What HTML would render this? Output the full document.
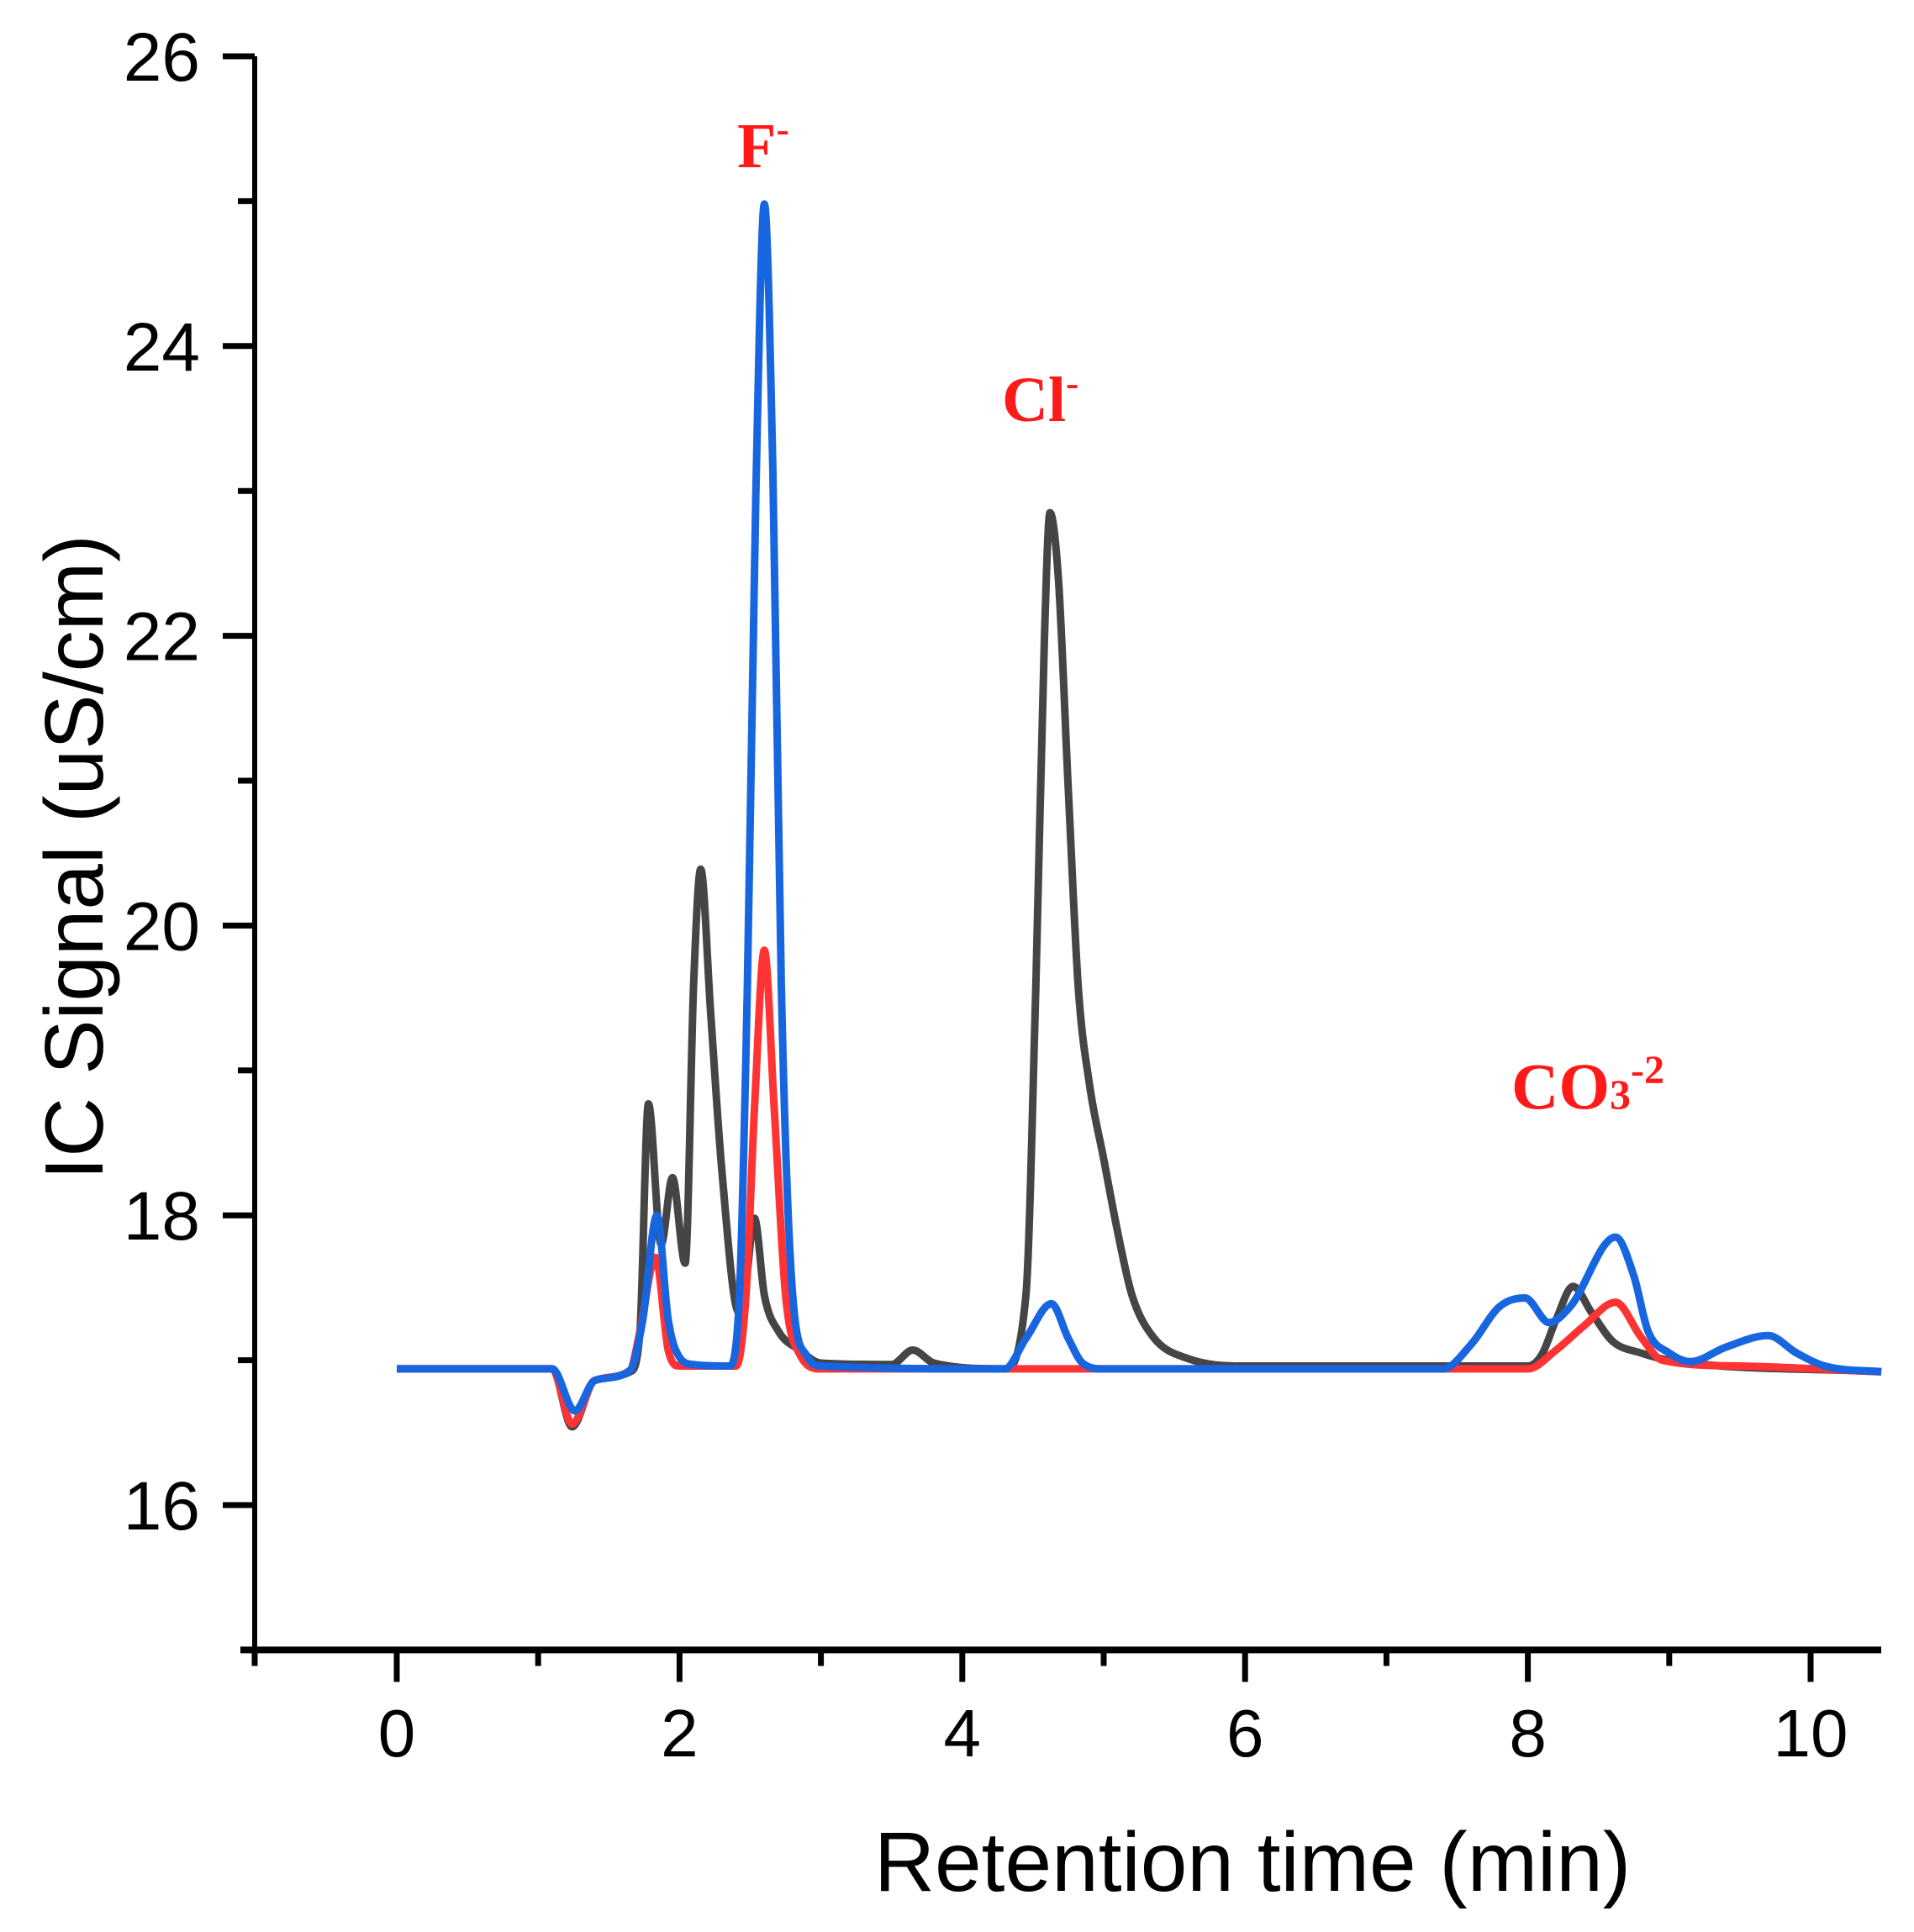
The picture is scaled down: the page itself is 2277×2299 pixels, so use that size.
<!DOCTYPE html>
<html><head><meta charset="utf-8"><style>
html,body{margin:0;padding:0;background:#fff;}
svg{display:block;}
</style></head><body>
<svg id="chart" width="2277" height="2299" viewBox="0 0 2277 2299" xmlns="http://www.w3.org/2000/svg">
<g id="axes"></g>
<g id="series"></g>
<text x="1490" y="2250" font-family="Liberation Sans, sans-serif" font-size="100" text-anchor="middle" fill="#000">Retention time (min)</text>
<text transform="translate(122,1020) rotate(-90)" font-family="Liberation Sans, sans-serif" font-size="98" text-anchor="middle" fill="#000">IC Signal (uS/cm)</text>
<text x="877" y="199" font-family="Liberation Serif, serif" font-weight="bold" font-size="76" fill="#ff1a1a">F<tspan font-size="46" dy="-30">-</tspan></text>
<text x="1192" y="501" font-family="Liberation Serif, serif" font-weight="bold" font-size="76" fill="#ff1a1a">Cl<tspan font-size="46" dy="-30">-</tspan></text>
<text x="1798" y="1319" font-family="Liberation Serif, serif" font-weight="bold" font-size="78" fill="#ff1a1a">CO<tspan font-size="50" dy="0">3</tspan><tspan font-size="48" dy="-30">-2</tspan></text>
</svg>
<script>
const xTicks=[0,2,4,6,8,10];
const xMinor=[-1,1,3,5,7,9];
const yTicks=[16,18,20,22,24,26];
const yMinor=[17,19,21,23,25];
const blackT=[0,1.1,1.24,1.4,1.65,1.72,1.78,1.87,1.95,2.04,2.1,2.15,2.22,2.3,2.42,2.47,2.53,2.6,2.7,2.85,3.0,3.5,3.65,3.8,4.3,4.45,4.52,4.58,4.62,4.68,4.75,4.82,4.9,5.0,5.1,5.2,5.35,5.6,6.0,8.0,8.1,8.2,8.32,8.45,8.6,8.8,9.0,10.5];
const blackV=[16.94,16.94,16.54,16.86,16.92,17.2,18.77,17.8,18.26,17.67,19.6,20.39,19.4,18.3,17.33,17.54,17.98,17.45,17.2,17.07,16.98,16.97,17.07,16.98,16.94,17.45,19.58,21.96,22.85,22.39,20.94,19.58,18.9,18.39,17.88,17.45,17.16,17.01,16.96,16.96,17.04,17.28,17.51,17.33,17.13,17.05,17.0,16.92];
const redT=[0,1.1,1.24,1.4,1.65,1.72,1.83,1.92,2.0,2.4,2.47,2.53,2.6,2.67,2.75,2.85,3.0,8.0,8.2,8.4,8.62,8.8,8.95,9.5,10.5];
const redV=[16.94,16.94,16.56,16.86,16.93,17.2,17.71,17.07,16.96,16.96,17.45,18.73,19.83,18.73,17.45,17.04,16.94,16.94,17.07,17.24,17.40,17.16,17.0,16.96,16.92];
const blueT=[0,1.1,1.26,1.4,1.65,1.74,1.84,1.92,2.0,2.1,2.35,2.42,2.48,2.54,2.6,2.66,2.72,2.8,2.9,3.0,4.3,4.45,4.63,4.75,4.85,5.0,7.4,7.6,7.8,7.98,8.15,8.3,8.62,8.75,8.85,9.0,9.15,9.4,9.7,9.9,10.1,10.5];
const blueV=[16.94,16.94,16.65,16.86,16.93,17.28,18.0,17.28,17.02,16.97,16.96,17.37,19.58,22.98,24.98,23.15,19.58,17.45,17.03,16.96,16.94,17.15,17.39,17.15,16.98,16.94,16.94,17.11,17.37,17.43,17.26,17.37,17.85,17.58,17.2,17.05,16.99,17.09,17.17,17.05,16.96,16.92];

const X0=472, XS=168.2, Y0=1791, YS=172.4;
function sx(t){return X0+t*XS;}
function sy(v){return Y0-(v-16)*YS;}
const NS='http://www.w3.org/2000/svg';
const axes=document.getElementById('axes');
function mk(tag,attrs,parent){const e=document.createElementNS(NS,tag);for(const k in attrs)e.setAttribute(k,attrs[k]);parent.appendChild(e);return e;}
const ya=mk('line',{x1:303,y1:sy(26),x2:303,y2:sy(15)+4,stroke:'#000','stroke-width':6},axes);


const xa=mk('line',{x1:286,y1:sy(15),x2:2238,y2:sy(15),stroke:'#000','stroke-width':8},axes);


xTicks.forEach(t=>{
  const l=mk('line',{x1:sx(t),y1:sy(15),x2:sx(t),y2:sy(15)+38,stroke:'#000','stroke-width':7},axes);
  
  
  const tx=mk('text',{x:sx(t),y:2090,'font-family':'Liberation Sans, sans-serif','font-size':80,'text-anchor':'middle',fill:'#000'},axes);
  tx.textContent=t;
  
  
});
xMinor.forEach(t=>{
  const l=mk('line',{x1:t===-1?303:sx(t),y1:sy(15),x2:t===-1?303:sx(t),y2:sy(15)+19,stroke:'#000','stroke-width':7},axes);
  
  
});
yTicks.forEach(v=>{
  const l=mk('line',{x1:265,y1:sy(v),x2:303,y2:sy(v),stroke:'#000','stroke-width':7},axes);
  
  
  const tx=mk('text',{x:238,y:sy(v)+29,'font-family':'Liberation Sans, sans-serif','font-size':82,'text-anchor':'end',fill:'#000'},axes);
  tx.textContent=v;
  
  
});
yMinor.forEach(v=>{
  const l=mk('line',{x1:283,y1:sy(v),x2:303,y2:sy(v),stroke:'#000','stroke-width':7},axes);
  
  
});
function monoPath(T,V){
  const xs=T.map(sx), ys=V.map(sy), n=xs.length;
  const d=[],m=new Array(n);
  for(let i=0;i<n-1;i++)d.push((ys[i+1]-ys[i])/(xs[i+1]-xs[i]));
  m[0]=d[0];m[n-1]=d[n-2];
  for(let i=1;i<n-1;i++){m[i]=(d[i-1]*d[i]<=0)?0:(d[i-1]+d[i])/2;}
  for(let i=0;i<n-1;i++){
    if(d[i]===0){m[i]=0;m[i+1]=0;continue;}
    const a=m[i]/d[i],b=m[i+1]/d[i],s=a*a+b*b;
    if(s>9){const t=3/Math.sqrt(s);m[i]=t*a*d[i];m[i+1]=t*b*d[i];}
  }
  let p='M'+xs[0].toFixed(1)+','+ys[0].toFixed(1);
  for(let i=0;i<n-1;i++){
    const h=(xs[i+1]-xs[i])/3;
    p+=' C'+(xs[i]+h).toFixed(1)+','+(ys[i]+m[i]*h).toFixed(1)+' '+(xs[i+1]-h).toFixed(1)+','+(ys[i+1]-m[i+1]*h).toFixed(1)+' '+xs[i+1].toFixed(1)+','+ys[i+1].toFixed(1);
  }
  return p;
}
const sg=document.getElementById('series');
const pb=mk('path',{d:monoPath(blackT,blackV),fill:'none',stroke:'#454545','stroke-width':9,'stroke-linejoin':'round'},sg);


const pr=mk('path',{d:monoPath(redT,redV),fill:'none',stroke:'#ff3333','stroke-width':9,'stroke-linejoin':'round'},sg);


const pbl=mk('path',{d:monoPath(blueT,blueV),fill:'none',stroke:'#1766e0','stroke-width':9,'stroke-linejoin':'round'},sg);


</script>
</body></html>
